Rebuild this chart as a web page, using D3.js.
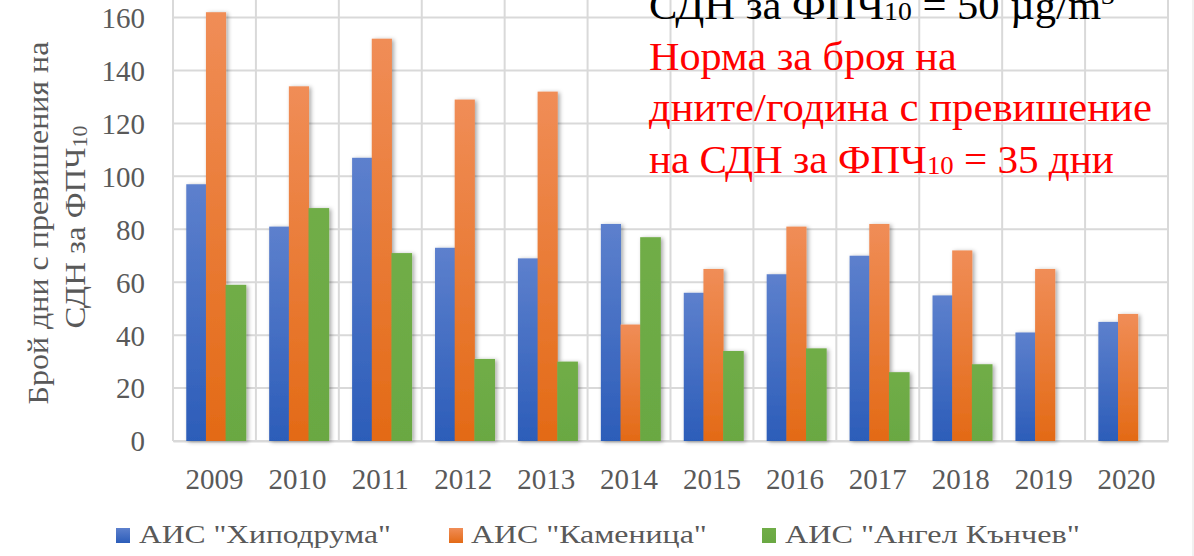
<!DOCTYPE html>
<html>
<head>
<meta charset="utf-8">
<script src="https://cdn.jsdelivr.net/npm/d3@7"></script>
<style>
html,body{margin:0;padding:0;background:#fff;}
svg{display:block;}
</style>
</head>
<body>
<svg id="chart" width="1194" height="556" font-family="'Liberation Serif', serif"></svg>
<script>
const years = ["2009","2010","2011","2012","2013","2014","2015","2016","2017","2018","2019","2020"];
const hipodruma = [97,81,107,73,69,82,56,63,70,55,41,45];
const kamenitsa = [162,134,152,129,132,44,65,81,82,72,65,48];
const angel = [59,88,71,31,30,77,34,35,26,29,null,null];
const seriesNames = ['АИС "Хиподрума"','АИС "Каменица"','АИС "Ангел Кънчев"'];
const yTicks = [0,20,40,60,80,100,120,140,160];
const normDays = 35;

const FONT = '"Liberation Serif", serif';
const svg = d3.select("#chart");
const W = 1194, H = 556;
const left = 173, right = 1168, bottom = 441, top160 = 17.5;

const x0 = d3.scaleBand().domain(years).range([left, right]).paddingInner(0).paddingOuter(0);
const bw = x0.bandwidth();
const x1 = d3.scaleBand().domain([0,1,2]).range([bw*0.16, bw*0.16 + 59]).padding(0);
const y = d3.scaleLinear().domain([0,160]).range([bottom, top160]);

const defs = svg.append("defs");
function grad(id, c1, c2){
  const g = defs.append("linearGradient").attr("id", id).attr("x1",0).attr("y1",0).attr("x2",0).attr("y2",1);
  g.append("stop").attr("offset","0%").attr("stop-color",c1);
  g.append("stop").attr("offset","100%").attr("stop-color",c2);
}
grad("gBlue","#5d80cd","#2c5db9");
grad("gOrange","#f08d57","#e36a16");
grad("gGreen","#70ad47","#6aa843");
const f = defs.append("filter").attr("id","shadow").attr("x","-30%").attr("y","-10%").attr("width","160%").attr("height","130%");
f.append("feDropShadow").attr("dx",2).attr("dy",1).attr("stdDeviation",2).attr("flood-color","#000").attr("flood-opacity",0.35);

svg.append("line").attr("x1",1193).attr("x2",1193).attr("y1",0).attr("y2",H).attr("stroke","#e3e3e3").attr("stroke-width",1);

const gridColor = "#d9d9d9";
svg.append("g").selectAll("line").data(yTicks.concat([180])).join("line")
  .attr("x1", left).attr("x2", right)
  .attr("y1", d => y(d)).attr("y2", d => y(d))
  .attr("stroke", gridColor).attr("stroke-width", 2);
const bounds = years.map(d => x0(d)).concat([right]);
svg.append("g").selectAll("line").data(bounds).join("line")
  .attr("x1", d => d).attr("x2", d => d)
  .attr("y1", 0).attr("y2", bottom)
  .attr("stroke", gridColor).attr("stroke-width", 2);

const yAxis = d3.axisLeft(y).tickValues(yTicks).tickSize(0).tickPadding(28);
const gy = svg.append("g").attr("transform", `translate(${left},0)`).call(yAxis);
gy.attr("font-family", FONT);
gy.select(".domain").remove();
gy.selectAll("text").attr("font-family", FONT).attr("font-size", 29).attr("fill", "#595959").attr("dy", "0.34em");

const xAxis = d3.axisBottom(x0).tickSize(0).tickPadding(0);
const gx = svg.append("g").attr("transform", `translate(0,${bottom})`).call(xAxis);
gx.attr("font-family", FONT);
gx.select(".domain").attr("stroke", gridColor).attr("stroke-width", 2);
gx.selectAll("text").attr("font-family", FONT).attr("font-size", 29).attr("fill", "#595959").attr("dy", 0).attr("y", 48);

const data = [hipodruma, kamenitsa, angel];
const fills = ["url(#gBlue)","url(#gOrange)","url(#gGreen)"];
const bars = svg.append("g").attr("filter","url(#shadow)");
data.forEach((vals, si) => {
  bars.append("g").selectAll("rect")
    .data(years.map((yr,i) => ({yr, v: vals[i]})).filter(d => d.v != null))
    .join("rect")
    .attr("x", d => x0(d.yr) + x1(si))
    .attr("width", x1.bandwidth() + (si < 2 ? 0.5 : 1))
    .attr("y", d => y(d.v))
    .attr("height", d => y(0) - y(d.v))
    .attr("fill", fills[si]);
});

const lineG = svg.append("g").attr("filter","url(#shadow)");
lineG.append("line")
  .attr("x1", x0(years[0]) + bw/2).attr("x2", x0(years[years.length-1]) + bw/2)
  .attr("y1", y(normDays)).attr("y2", y(normDays))
  .attr("stroke", "#ff0000").attr("stroke-width", 3.2)
  .attr("stroke-dasharray", "26,10.5");

function fitWidth(sel, x0p, target){
  const w = sel.node().getBBox().width;
  const s = target / w;
  sel.attr("transform", `translate(${x0p},0) scale(${s},1) translate(${-x0p},0)`);
}

const yt = svg.append("text").attr("x",0).attr("y",0).attr("font-family", FONT)
  .attr("text-anchor","middle").attr("font-size",30).attr("fill","#595959")
  .text("Брой дни с превишения на");
const yt2 = svg.append("text").attr("x",0).attr("y",0).attr("font-family", FONT)
  .attr("text-anchor","middle").attr("font-size",30).attr("fill","#595959");
yt2.append("tspan").text("СДН за ФПЧ");
yt2.append("tspan").attr("font-size",20).attr("dy",2).text("10");
function placeRot(sel, cx, cy, target){
  const w = sel.node().getBBox().width;
  const s = target / w;
  sel.attr("transform", `translate(${cx},${cy}) rotate(-90) scale(${s},1)`);
}
placeRot(yt, 48, 223, 363);
placeRot(yt2, 85, 227, 203);

const ann1 = svg.append("text").attr("x",649).attr("y",19).attr("font-family", FONT).attr("font-size",40).attr("fill","#000");
ann1.append("tspan").text("СДН за ФПЧ");
ann1.append("tspan").attr("font-size",26).attr("dy",1).text("10");
ann1.append("tspan").attr("dy",-1).text(" = 50 µg/m");
ann1.append("tspan").attr("font-size",26).attr("dy",-15).text("3");
fitWidth(ann1, 649, 466);

const redLines = ["Норма за броя на","дните/година с превишение"];
const redW = [308, 503];
redLines.forEach((t,i) => {
  const tx = svg.append("text").attr("x",649).attr("y",70 + i*51.5).attr("font-family", FONT)
    .attr("font-size",40).attr("fill","#ff0000").text(t);
  fitWidth(tx, 649, redW[i]);
});
const ann3 = svg.append("text").attr("x",649).attr("y",173).attr("font-family", FONT).attr("font-size",40).attr("fill","#ff0000");
ann3.append("tspan").text("на СДН за ФПЧ");
ann3.append("tspan").attr("font-size",26).attr("dy",1).text("10");
ann3.append("tspan").attr("dy",-1).text(" = 35 дни");
fitWidth(ann3, 649, 465);

const legendColors = ["url(#gBlue)","url(#gOrange)","url(#gGreen)"];
const legSq = [116, 449, 762];
const legTx = [139, 471, 785];
const legW = [252, 236, 295];
const leg = svg.append("g");
seriesNames.forEach((n,i) => {
  leg.append("rect").attr("x",legSq[i]).attr("y",528).attr("width",14).attr("height",15).attr("fill",legendColors[i]);
  const tx = leg.append("text").attr("x",legTx[i]).attr("y",543).attr("font-family", FONT)
    .attr("font-size",25).attr("fill","#595959").text(n);
  fitWidth(tx, legTx[i], legW[i]);
});
</script>
</body>
</html>
